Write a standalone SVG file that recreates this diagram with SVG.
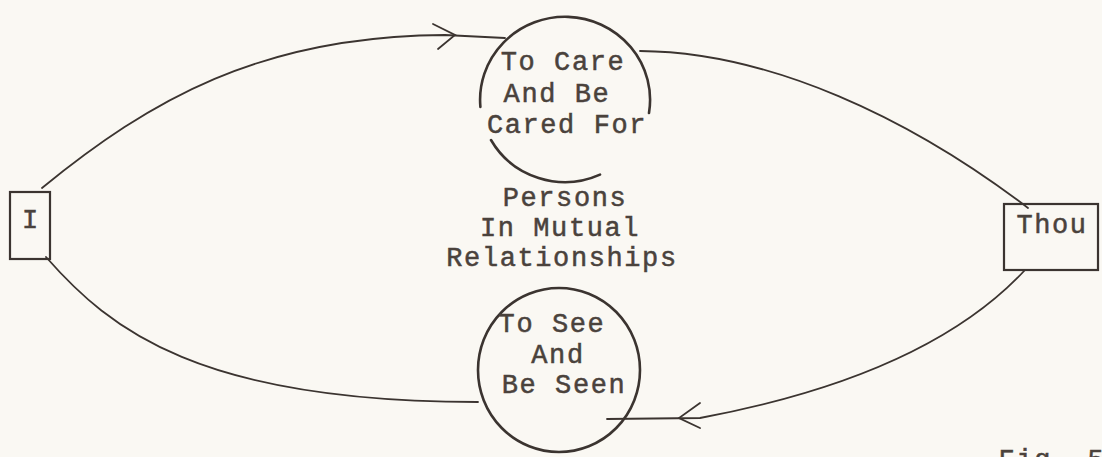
<svg xmlns="http://www.w3.org/2000/svg" width="1102" height="457" viewBox="0 0 1102 457">
<style>
.bg{fill:#faf8f3}
.ln{fill:none;stroke:#3b3430;stroke-width:1.8;stroke-linecap:round}
.ci{fill:none;stroke:#3b3430;stroke-width:2.6;stroke-linecap:round}
.bx{fill:none;stroke:#3b3430;stroke-width:2.2}
.t{font-family:"Liberation Mono","Courier New",monospace;font-size:27px;fill:#4a423c;text-anchor:middle;letter-spacing:1.6px;stroke:#4a423c;stroke-width:0.5}
</style>
<rect class="bg" x="0" y="0" width="1102" height="457"/>
<g id="connectors">
<path class="ln" d="M 42 188 C 150 100 260 36 445 35 L 505 38"/>
<path class="ln" d="M 433 24 L 455 35 L 438 49"/>
<path class="ln" d="M 640 51 C 770 52 910 118 1028 208"/>
<path class="ln" d="M 1025 270 C 960 340 850 390 700 418 L 607 419"/>
<path class="ln" d="M 700 403 L 679 418 L 700 428"/>
<path class="ln" d="M 46 257 C 110 330 200 402 478 402"/>
</g>
<g id="node-care">
<path class="ci" d="M 649 113 A 85 83 0 1 0 480.4 107"/>
<path class="ci" d="M 491 140 A 85 83 0 0 0 600 174.6"/>
<text class="t" x="563" y="70">To Care</text>
<text class="t" x="557" y="102">And Be</text>
<text class="t" x="567" y="133">Cared For</text>
</g>
<g id="node-persons">
<text class="t" x="565" y="206">Persons</text>
<text class="t" x="560" y="236">In Mutual</text>
<text class="t" x="562" y="266">Relationships</text>
</g>
<g id="node-see">
<ellipse class="ci" cx="559" cy="370" rx="81" ry="82"/>
<text class="t" x="552" y="332">To See</text>
<text class="t" x="558" y="363">And</text>
<text class="t" x="564" y="393">Be Seen</text>
</g>
<g id="node-I">
<rect class="bx" x="10" y="192" width="40" height="67"/>
<text class="t" x="31" y="228">I</text>
</g>
<g id="node-Thou">
<rect class="bx" x="1004" y="204" width="94" height="66"/>
<text class="t" x="1052" y="233">Thou</text>
</g>
<text class="t" x="1052" y="468">Fig. 5</text>
</svg>
